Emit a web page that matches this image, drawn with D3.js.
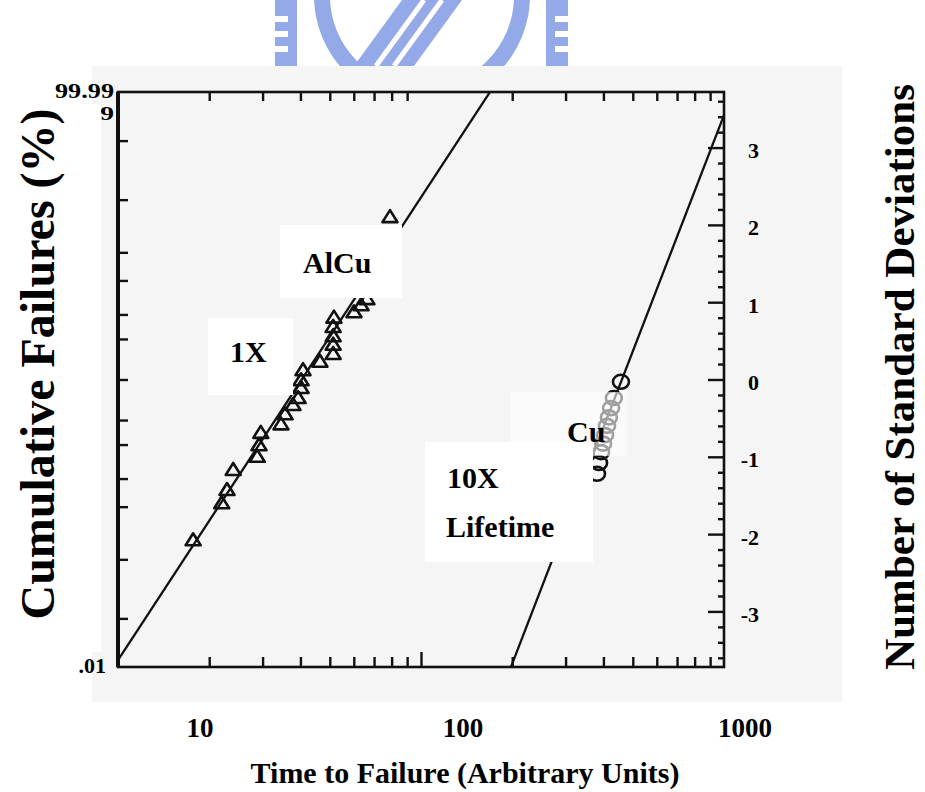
<!DOCTYPE html>
<html>
<head>
<meta charset="utf-8">
<script src="https://cdn.jsdelivr.net/npm/d3@7"></script>
<style>
  html, body { margin: 0; padding: 0; background: #fff; }
  svg { display: block; }
  text { font-family: "Liberation Serif", "Times New Roman", serif; font-weight: bold; fill: #000; }
</style>
</head>
<body>
<svg id="chart" width="925" height="792"></svg>
<script>
// AlCu lines: time to failure (arbitrary units) and plotting position (standard deviations)
const alcuTime  = [17.7, 22.0, 22.9, 24.0, 28.8, 29.2, 29.6, 34.5, 35.6, 37.8, 39.3, 40.2,
                   40.2, 40.8, 46.4, 51.3, 51.3, 51.3, 51.3, 51.6, 60.1, 63.4, 66.3, 79.0];
const alcuSigma = [-2.08, -1.60, -1.43, -1.17, -1.00, -0.85, -0.69, -0.58, -0.45, -0.33, -0.24, -0.11,
                   -0.01, 0.12, 0.23, 0.33, 0.45, 0.56, 0.68, 0.80, 0.87, 0.96, 1.04, 2.10];

// Cu lines
const cuTime  = [457, 433, 424, 417, 411, 405, 399, 393, 387, 381];
const cuSigma = [-0.03, -0.24, -0.37, -0.49, -0.60, -0.72, -0.83, -0.94, -1.08, -1.22];

// lognormal fit lines (end points)
const alcuFitTime  = [10, 169];
const alcuFitSigma = [-3.63, 3.72];
const cuFitTime    = [198, 1000];
const cuFitSigma   = [-3.72, 3.42];

// axes
const timeDomain    = [10, 1000];
const percentDomain = [0.01, 99.99];
const percentTicks  = [0.1, 1, 5, 10, 20, 30, 50, 70, 80, 90, 95, 99, 99.9];
const sigmaLabels   = [-3, -2, -1, 0, 1, 2, 3];
const timeLabels    = [10, 100, 1000];

// inverse standard normal CDF (Acklam)
function probit(p) {
  const a = [-3.969683028665376e+01, 2.209460984245205e+02, -2.759285104469687e+02,
             1.383577518672690e+02, -3.066479806614716e+01, 2.506628277459239e+00];
  const b = [-5.447609879822406e+01, 1.615858368580409e+02, -1.556989798598866e+02,
             6.680131188771972e+01, -1.328068155288572e+01];
  const c = [-7.784894002430293e-03, -3.223964580411365e-01, -2.400758277161838e+00,
             -2.549732539343734e+00, 4.374664141464968e+00, 2.938163982698783e+00];
  const d = [7.784695709041462e-03, 3.224671290700398e-01, 2.445134137142996e+00,
             3.754408661907416e+00];
  const pl = 0.02425, ph = 1 - pl;
  let q, r;
  if (p < pl) {
    q = Math.sqrt(-2 * Math.log(p));
    return (((((c[0]*q+c[1])*q+c[2])*q+c[3])*q+c[4])*q+c[5]) / ((((d[0]*q+d[1])*q+d[2])*q+d[3])*q+1);
  }
  if (p <= ph) {
    q = p - 0.5; r = q * q;
    return (((((a[0]*r+a[1])*r+a[2])*r+a[3])*r+a[4])*r+a[5])*q / (((((b[0]*r+b[1])*r+b[2])*r+b[3])*r+b[4])*r+1);
  }
  q = Math.sqrt(-2 * Math.log(1 - p));
  return -(((((c[0]*q+c[1])*q+c[2])*q+c[3])*q+c[4])*q+c[5]) / ((((d[0]*q+d[1])*q+d[2])*q+d[3])*q+1);
}

const svg = d3.select("#chart");
const W = 925, H = 792;
const plot = { left: 118, right: 724, top: 92, bottom: 667 };

const x = d3.scaleLog().domain(timeDomain).range([plot.left, plot.right]);
const y = d3.scaleLinear()
  .domain(percentDomain.map(p => probit(p / 100)))
  .range([plot.bottom, plot.top]);
const yPct = p => y(probit(p / 100));

// ---- emblem at the top of the page ----
const blue = "#94a9e8";
svg.append("clipPath").attr("id", "logoClip")
  .append("rect").attr("x", 0).attr("y", 0).attr("width", W).attr("height", 66);
const logo = svg.append("g").attr("clip-path", "url(#logoClip)");
function comb(x0, notchLeft) {
  logo.append("rect").attr("x", x0).attr("y", 0).attr("width", 22).attr("height", 66).attr("fill", blue);
  [16, 31, 46].forEach(t => logo.append("rect")
    .attr("x", notchLeft ? x0 : x0 + 9).attr("y", t).attr("width", 13).attr("height", 6).attr("fill", "#fff"));
}
comb(275, true);
comb(546, false);
const ring = d3.arc().innerRadius(92).outerRadius(108).startAngle(0).endAngle(2 * Math.PI);
logo.append("path").attr("d", ring()).attr("transform", "translate(422,-4)").attr("fill", blue);
logo.append("path")
  .attr("d", "M402,0 L462,0 L414,66 L354,66 Z")
  .attr("fill", blue);
logo.append("line").attr("x1", 424).attr("y1", 0).attr("x2", 376).attr("y2", 66)
  .attr("stroke", "#fff").attr("stroke-width", 5);
logo.append("line").attr("x1", 442).attr("y1", 0).attr("x2", 394).attr("y2", 66)
  .attr("stroke", "#fff").attr("stroke-width", 5);
logo.append("line").attr("x1", 304).attr("y1", 0).attr("x2", 304).attr("y2", 66)
  .attr("stroke", "#fff").attr("stroke-width", 3);

// ---- scanned plot area ----
svg.append("rect").attr("x", 92).attr("y", 66).attr("width", 750).attr("height", 636).attr("fill", "#f5f5f5");

// fit lines
const line = d3.line().x(d => x(d[0])).y(d => y(d[1]));
svg.append("path").datum(d3.zip(alcuFitTime, alcuFitSigma))
  .attr("d", line).attr("fill", "none").attr("stroke", "#111").attr("stroke-width", 2.3);
svg.append("path").datum(d3.zip(cuFitTime, cuFitSigma))
  .attr("d", line).attr("fill", "none").attr("stroke", "#111").attr("stroke-width", 2.3);

// AlCu triangles
const triangle = {
  draw(ctx) { ctx.moveTo(0, -7); ctx.lineTo(7.5, 5); ctx.lineTo(-7.5, 5); ctx.closePath(); }
};
svg.append("g").selectAll("path").data(d3.zip(alcuTime, alcuSigma)).join("path")
  .attr("d", d3.symbol(triangle)())
  .attr("transform", d => `translate(${x(d[0])},${y(d[1])})`)
  .attr("fill", "none").attr("stroke", "#111").attr("stroke-width", 2.6)
  .attr("stroke-linejoin", "round");

// Cu circles
svg.append("g").selectAll("ellipse").data(d3.zip(cuTime, cuSigma)).join("ellipse")
  .attr("cx", d => x(d[0])).attr("cy", d => y(d[1])).attr("rx", 8).attr("ry", 7)
  .attr("fill", "none").attr("stroke", "#111").attr("stroke-width", 2.6);

// ---- axes ----
const timeTicks = x.ticks().filter(t => timeLabels.indexOf(t) < 0);
const axisStyle = g => {
  g.select(".domain").remove();
  g.selectAll("line").attr("stroke", "#111").attr("stroke-width", 2.4);
};
svg.append("g").attr("transform", `translate(0,${plot.bottom})`)
  .call(d3.axisBottom(x).tickValues(timeTicks).tickSizeInner(-10).tickFormat(""))
  .call(axisStyle);
svg.append("g").attr("transform", `translate(0,${plot.bottom})`)
  .call(d3.axisBottom(x).tickValues([100]).tickSizeInner(-15).tickFormat(""))
  .call(axisStyle);
svg.append("g").attr("transform", `translate(0,${plot.top})`)
  .call(d3.axisTop(x).tickValues(timeTicks).tickSizeInner(-9).tickFormat(""))
  .call(axisStyle);

// probability ticks along the left edge
svg.append("g").attr("transform", `translate(${plot.left},0)`)
  .call(d3.axisLeft(y).tickValues(percentTicks.map(p => probit(p / 100))).tickSizeInner(-10).tickFormat(""))
  .call(axisStyle);

// standard deviation ticks along the right edge
svg.append("g").attr("transform", `translate(${plot.right},0)`)
  .call(d3.axisRight(y).tickValues(y.ticks(40).filter(v => Math.abs(v - Math.round(v)) > 1e-6))
    .tickSizeInner(-6).tickFormat(""))
  .call(axisStyle);
svg.append("g").attr("transform", `translate(${plot.right},0)`)
  .call(d3.axisRight(y).tickValues(sigmaLabels).tickSizeInner(-16).tickPadding(35).tickFormat(d => String(d)))
  .call(axisStyle)
  .call(g => g.selectAll("text")
    .attr("text-anchor", "end").attr("dy", "0.45em")
    .style("font-size", "22px").style("font-family", "'Liberation Serif', serif").style("font-weight", "bold"));

// frame
svg.append("rect")
  .attr("x", plot.left).attr("y", plot.top)
  .attr("width", plot.right - plot.left).attr("height", plot.bottom - plot.top)
  .attr("fill", "none").attr("stroke", "#111").attr("stroke-width", 2.6);
svg.append("line").attr("x1", plot.left).attr("x2", plot.left)
  .attr("y1", plot.top).attr("y2", plot.bottom).attr("stroke", "#111").attr("stroke-width", 4);

// end labels of the probability scale
svg.append("text").attr("x", 55).attr("y", yPct(percentDomain[1])).attr("dy", "0.3em")
  .attr("textLength", 59).attr("lengthAdjust", "spacingAndGlyphs").style("font-size", "21px")
  .text(d3.format(".2f")(percentDomain[1]));
svg.append("text").attr("x", 66).attr("y", yPct(percentDomain[1]) + 22).attr("dy", "0.3em")
  .attr("textLength", 48).attr("lengthAdjust", "spacingAndGlyphs").style("font-size", "19px")
  .text(d3.format(".1f")(percentTicks[percentTicks.length - 1]));
svg.append("text").attr("x", 106).attr("y", yPct(percentDomain[0])).attr("dy", "0.25em")
  .attr("text-anchor", "end").style("font-size", "22px")
  .text(d3.format(".2f")(percentDomain[0]).replace(/^0/, ""));

// ---- annotation boxes ----
function box(x0, y0, w, h, op) {
  svg.append("rect").attr("x", x0).attr("y", y0).attr("width", w).attr("height", h)
    .attr("fill", "#fff").attr("fill-opacity", op == null ? 1 : op);
}
box(0, 104, 101, 548);          // left title panel
box(280, 225, 122, 73);         // AlCu
box(208, 318, 85, 77);          // 1X
box(510, 392, 117, 64, 0.6);    // Cu
box(425, 442, 168, 120);        // 10X Lifetime

const label = (t, x0, y0) => svg.append("text").attr("x", x0).attr("y", y0)
  .style("font-size", "30px").text(t);
label("AlCu", 303, 273);
label("1X", 230, 362);
label("Cu", 567, 442);
label("10X", 447, 488);
label("Lifetime", 446, 537);

// ---- outer axis labels and titles ----
const labelX = d3.scaleLog().domain([10, 100, 1000]).range([200, 463, 745]);
svg.append("g").selectAll("text").data(timeLabels).join("text")
  .attr("x", d => labelX(d)).attr("y", 737).attr("text-anchor", "middle")
  .style("font-size", "27px").text(d => d);

svg.append("text").attr("x", 465).attr("y", 783).attr("text-anchor", "middle")
  .style("font-size", "30px").text("Time to Failure (Arbitrary Units)");

svg.append("text").attr("transform", "translate(37,364) rotate(-90)")
  .attr("text-anchor", "middle").attr("dy", "0.35em")
  .style("font-size", "48px").text("Cumulative Failures (%)");

svg.append("text").attr("transform", "translate(899,377) rotate(-90)")
  .attr("text-anchor", "middle").attr("dy", "0.35em")
  .style("font-size", "43px").text("Number of Standard Deviations");
</script>
</body>
</html>
